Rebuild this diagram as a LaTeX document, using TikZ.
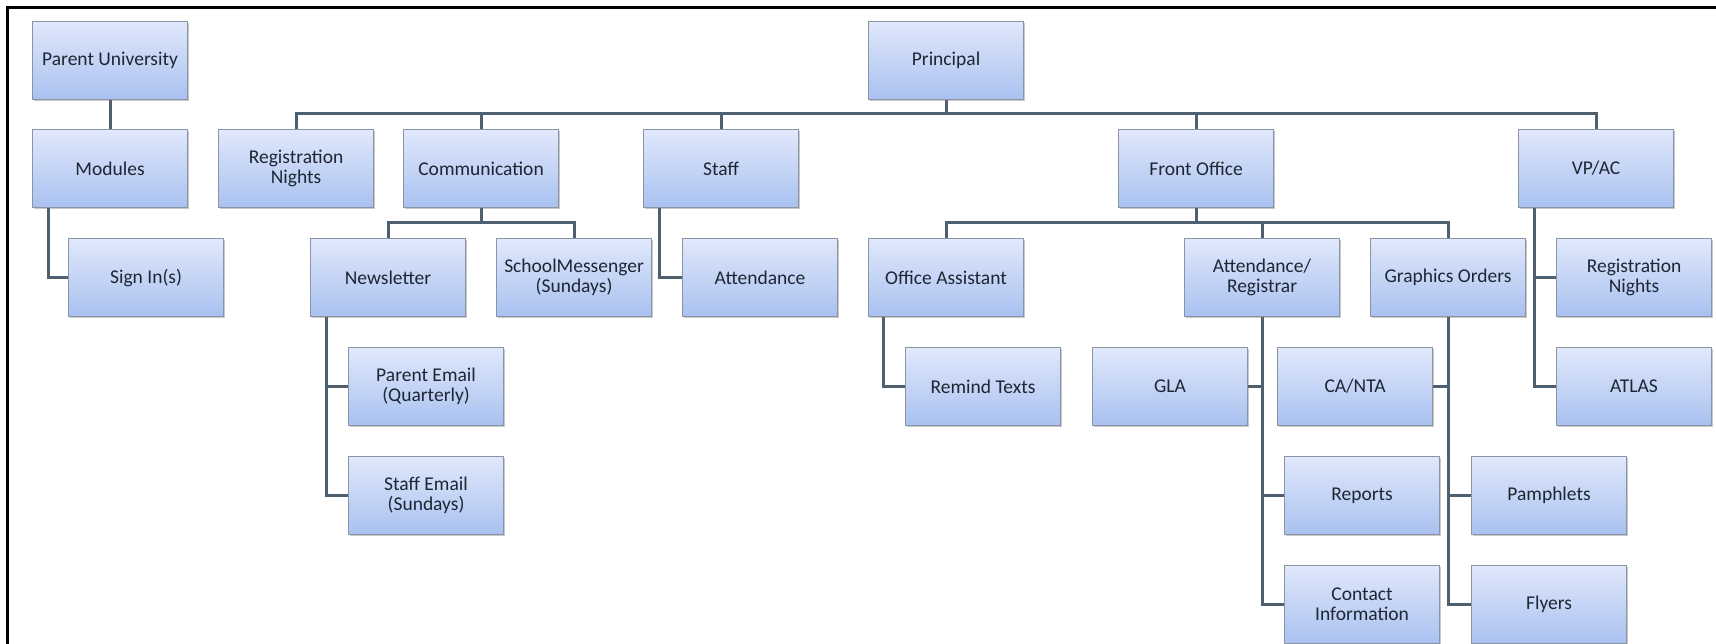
\documentclass[tikz,border=0pt]{standalone}
\usepackage{fontspec}
\setmainfont{Carlito}
\usetikzlibrary{shadows,backgrounds}

\definecolor{boxtop}{HTML}{E0E8FB}
\definecolor{boxbot}{HTML}{A9C1F0}
\definecolor{boxedge}{HTML}{8A94A4}
\definecolor{linkcol}{HTML}{4E5F6F}
\definecolor{txt}{HTML}{1E2634}

\tikzset{
  orgbox/.style={draw=boxedge, line width=1.1pt, top color=boxtop, bottom color=boxbot,
    minimum width=155pt, minimum height=78pt, anchor=north west, align=center,
    inner sep=2pt, text=txt, font=\fontsize{19.5}{20}\selectfont,
    drop shadow={shadow xshift=1.5pt, shadow yshift=-1.8pt, opacity=0.35, fill=black!60}},
  link/.style={draw=linkcol, line width=3pt}
}

\begin{document}
\begin{tikzpicture}[x=1pt, y=-1pt]
\useasboundingbox (0,0) rectangle (1716,644);

% row 0
\node[orgbox] (pu)    at (32,21)    {Parent University};
\node[orgbox] (prin)  at (868,21)   {Principal};
% row 1
\node[orgbox] (mod)   at (32,129)   {Modules};
\node[orgbox] (regn)  at (218,129)  {Registration\\Nights};
\node[orgbox] (comm)  at (403,129)  {Communication};
\node[orgbox] (staff) at (643,129)  {Staff};
\node[orgbox] (fo)    at (1118,129) {Front Office};
\node[orgbox] (vp)    at (1518,129) {VP/AC};
% row 2
\node[orgbox] (sign)  at (68,238)   {Sign In(s)};
\node[orgbox] (news)  at (310,238)  {Newsletter};
\node[orgbox] (sm)    at (496,238)  {SchoolMessenger\\(Sundays)};
\node[orgbox] (att)   at (682,238)  {Attendance};
\node[orgbox] (oa)    at (868,238)  {Office Assistant};
\node[orgbox] (ar)    at (1184,238) {Attendance/\\Registrar};
\node[orgbox] (go)    at (1370,238) {Graphics Orders};
\node[orgbox] (vreg)  at (1556,238) {Registration\\Nights};
% row 3
\node[orgbox] (pe)    at (348,347)  {Parent Email\\(Quarterly)};
\node[orgbox] (rt)    at (905,347)  {Remind Texts};
\node[orgbox] (gla)   at (1092,347) {GLA};
\node[orgbox] (ca)    at (1277,347) {CA/NTA};
\node[orgbox] (atlas) at (1556,347) {ATLAS};
% row 4
\node[orgbox] (se)    at (348,456)  {Staff Email\\(Sundays)};
\node[orgbox] (rep)   at (1284,456) {Reports};
\node[orgbox] (pam)   at (1471,456) {Pamphlets};
% row 5
\node[orgbox] (ci)    at (1284,565) {Contact\\Information};
\node[orgbox] (fly)   at (1471,565) {Flyers};

\begin{scope}[on background layer]
  \fill[white] (0,0) rectangle (1716,644);
  % frame
  \draw[black, line width=2.2pt] (7.5,644) -- (7.5,7.5) -- (1716,7.5);

  % Parent University branch
  \draw[link] (pu.south) -- (mod.north);
  \coordinate (modl) at ([xshift=16pt]mod.south west);
  \draw[link] (modl) |- (sign.west);

  % Principal bus
  \draw[link] (prin.south) -- ++(0,15);
  \draw[link] (regn.north) -- ++(0,-15) -| (vp.north);
  \draw[link] (comm.north) -- ++(0,-15);
  \draw[link] (staff.north) -- ++(0,-15);
  \draw[link] (fo.north) -- ++(0,-15);

  % Communication
  \draw[link] (comm.south) -- ++(0,15.5);
  \draw[link] (news.north) -- ++(0,-15.5) -| (sm.north);
  \coordinate (newsl) at ([xshift=16pt]news.south west);
  \draw[link] (newsl) |- (se.west);
  \draw[link] (pe.west) -- (pe.west -| newsl);

  % Staff
  \coordinate (staffl) at ([xshift=16pt]staff.south west);
  \draw[link] (staffl) |- (att.west);

  % Front Office
  \draw[link] (fo.south) -- ++(0,15.5);
  \draw[link] (oa.north) -- ++(0,-15.5) -| (go.north);
  \draw[link] (ar.north) -- ++(0,-15.5);
  \coordinate (oal) at ([xshift=15pt]oa.south west);
  \draw[link] (oal) |- (rt.west);

  % Attendance/Registrar
  \draw[link] (ar.south) |- (ci.west);
  \draw[link] (gla.east) -- (gla.east -| ar.south);
  \draw[link] (rep.west) -- (rep.west -| ar.south);

  % Graphics Orders
  \draw[link] (go.south) |- (fly.west);
  \draw[link] (ca.east) -- (ca.east -| go.south);
  \draw[link] (pam.west) -- (pam.west -| go.south);

  % VP/AC
  \coordinate (vpl) at ([xshift=16pt]vp.south west);
  \draw[link] (vpl) |- (atlas.west);
  \draw[link] (vreg.west) -- (vreg.west -| vpl);
\end{scope}
\end{tikzpicture}
\end{document}
